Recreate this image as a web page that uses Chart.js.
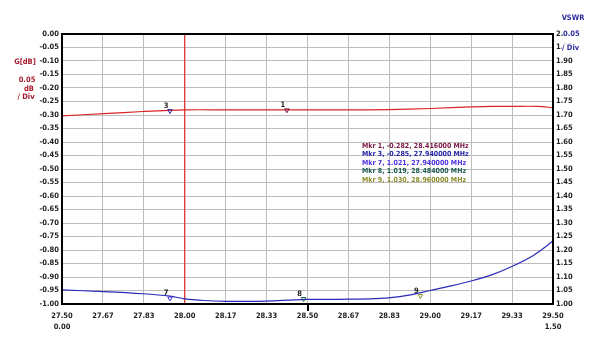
<!DOCTYPE html>
<html>
<head>
<meta charset="utf-8">
<script src="https://cdn.jsdelivr.net/npm/chart.js@4/dist/chart.umd.min.js"></script>
<style>
  html, body { margin: 0; padding: 0; background: #fff; }
  #wrap { width: 616px; height: 338px; }
</style>
</head>
<body>
<div id="wrap"><canvas id="plot" width="616" height="338"></canvas></div>
<script>
// frequency axis (MHz)
const xTicks = [27.5, 27.6667, 27.8333, 28.0, 28.1667, 28.3333, 28.5, 28.6667, 28.8333, 29.0, 29.1667, 29.3333, 29.5];
const xLabels = [['27.50', '0.00'], '27.67', '27.83', '28.00', '28.17', '28.33', '28.50', '28.67', '28.83', '29.00', '29.17', '29.33', ['29.50', '1.50']];

// G[dB] trace (left axis)
const gainFreq = [27.50, 27.67, 27.83, 28.00, 28.17, 28.33, 28.50, 28.67, 28.83, 29.00, 29.17, 29.25, 29.33, 29.44, 29.50];
const gainDb   = [-0.303, -0.295, -0.287, -0.281, -0.281, -0.281, -0.281, -0.281, -0.280, -0.276, -0.270, -0.268, -0.268, -0.268, -0.273];

// VSWR trace (right axis)
const vswrFreq = [27.50, 27.67, 27.83, 27.94, 28.00, 28.08, 28.17, 28.25, 28.33, 28.42, 28.50, 28.58, 28.67, 28.75, 28.83, 28.92, 29.00, 29.08, 29.17, 29.25, 29.33, 29.42, 29.50];
const vswr     = [1.052, 1.046, 1.038, 1.029, 1.019, 1.013, 1.010, 1.010, 1.011, 1.014, 1.017, 1.017, 1.018, 1.019, 1.023, 1.034, 1.050, 1.066, 1.086, 1.108, 1.138, 1.180, 1.233];

// markers
const markerIds   = ['1', '3', '7', '8', '9'];
const markerFreq  = [28.416, 27.940, 27.940, 28.484, 28.960];
const markerValue = [-0.282, -0.285, 1.021, 1.019, 1.030];
const markerAxis  = ['y', 'y', 'y2', 'y2', 'y2'];
const markerColor = ['#7a1444', '#2424a8', '#4a30e0', '#1e5a50', '#8c8c2c'];
const markerText  = [
  'Mkr 1, -0.282, 28.416000 MHz',
  'Mkr 3, -0.285, 27.940000 MHz',
  'Mkr 7, 1.021, 27.940000 MHz',
  'Mkr 8, 1.019, 28.484000 MHz',
  'Mkr 9, 1.030, 28.960000 MHz'
];

const cursorFreq = 28.00;
const centerFreq = 28.50;

const FONT = "'Liberation Sans Narrow', 'DejaVu Sans Condensed', 'Liberation Sans', sans-serif";

const xy = (xs, ys) => xs.map((x, i) => ({ x: x, y: ys[i] }));

const markerSets = markerIds.map((id, i) => ({
  label: 'Mkr ' + id,
  data: [{ x: markerFreq[i], y: markerValue[i] }],
  yAxisID: markerAxis[i],
  showLine: false,
  pointStyle: 'triangle',
  rotation: 180,
  pointRadius: 2.6,
  pointBorderWidth: 1,
  pointBorderColor: markerColor[i],
  pointBackgroundColor: 'rgba(255,255,255,0)',
  order: 0
}));

// texts, border, cursor tick and marker numbers
const overlay = {
  id: 'overlay',
  afterDatasetsDraw(chart) {
    const ctx = chart.ctx;
    const a = chart.chartArea;
    const sx = chart.scales.x, sy = chart.scales.y, sy2 = chart.scales.y2;
    ctx.save();

    // plot frame
    ctx.strokeStyle = '#000';
    ctx.lineWidth = 2;
    ctx.strokeRect(a.left, a.top, a.right - a.left, a.bottom - a.top);

    // centre frequency tick under the axis
    const cx = Math.round(sx.getPixelForValue(centerFreq));
    ctx.beginPath();
    ctx.moveTo(cx, a.bottom);
    ctx.lineTo(cx, a.bottom + 7);
    ctx.stroke();

    // marker numbers
    ctx.font = 'bold 7.5px ' + FONT;
    ctx.textAlign = 'center';
    ctx.textBaseline = 'alphabetic';
    markerIds.forEach((id, i) => {
      const scale = markerAxis[i] === 'y' ? sy : sy2;
      const px = sx.getPixelForValue(markerFreq[i]);
      const py = scale.getPixelForValue(markerValue[i]);
      ctx.fillStyle = '#222';
      ctx.fillText(id, px - 4, py - 3);
    });

    // marker readout
    ctx.font = 'bold 7px ' + FONT;
    ctx.textAlign = 'left';
    ctx.textBaseline = 'middle';
    markerText.forEach((t, i) => {
      ctx.fillStyle = markerColor[i];
      ctx.fillText(t, a.left + 300, a.top + 112 + i * 8.5);
    });

    // left axis title
    ctx.fillStyle = '#a8182c';
    ctx.textAlign = 'center';
    ctx.font = 'bold 7.5px ' + FONT;
    ctx.fillText('G[dB]', 25, 62);
    ctx.fillText('0.05', 27, 80);
    ctx.fillText('dB', 29, 89);
    ctx.fillText('/ Div', 26, 97);

    // right axis title
    ctx.fillStyle = '#2c2c9c';
    ctx.fillText('VSWR', 573, 18);
    ctx.textAlign = 'left';
    const yTop = sy2.getPixelForValue(2.0);
    ctx.fillStyle = '#fff';
    ctx.fillRect(563, yTop - 4, 16, 8);
    ctx.fillStyle = '#2c2c9c';
    ctx.fillText('0.05', 563, yTop);
    const y195 = sy2.getPixelForValue(1.95);
    ctx.fillStyle = '#fff';
    ctx.fillRect(562, y195 - 4, 18, 8);
    ctx.fillStyle = '#2c2c9c';
    ctx.fillText('/ Div', 562, y195 + 1);
    ctx.restore();
  }
};

const tickFont = { family: FONT, size: 7.5, weight: 'bold' };

new Chart(document.getElementById('plot'), {
  type: 'line',
  data: {
    datasets: [
      ...markerSets,
      {
        label: 'cursor',
        data: [{ x: cursorFreq, y: 0 }, { x: cursorFreq, y: -1 }],
        yAxisID: 'y',
        borderColor: '#e02828',
        borderWidth: 1.2,
        pointRadius: 0,
        order: 3
      },
      {
        label: 'G[dB]',
        data: xy(gainFreq, gainDb),
        yAxisID: 'y',
        borderColor: '#dc2424',
        borderWidth: 1.2,
        pointRadius: 0,
        tension: 0.3,
        order: 2
      },
      {
        label: 'VSWR',
        data: xy(vswrFreq, vswr),
        yAxisID: 'y2',
        borderColor: '#2a2ab8',
        borderWidth: 1.2,
        pointRadius: 0,
        tension: 0.3,
        order: 1
      }
    ]
  },
  options: {
    responsive: false,
    animation: false,
    layout: { padding: { top: 34, left: 0, right: 0, bottom: 0 } },
    plugins: { legend: { display: false }, tooltip: { enabled: false } },
    scales: {
      x: {
        type: 'linear',
        min: 27.5,
        max: 29.5,
        afterBuildTicks: s => { s.ticks = xTicks.map(v => ({ value: v })); },
        afterFit: s => { s.height = 34; },
        grid: { color: '#bdbdbd', lineWidth: 1, drawTicks: false },
        border: { display: false },
        ticks: {
          autoSkip: false,
          maxRotation: 0,
          padding: 6,
          color: '#222',
          font: Object.assign({ lineHeight: 1.5 }, tickFont),
          callback: (v, i) => xLabels[i]
        }
      },
      y: {
        position: 'left',
        min: -1,
        max: 0,
        afterFit: s => { s.width = 62; },
        grid: { color: '#bdbdbd', lineWidth: 1, drawTicks: false },
        border: { display: false },
        ticks: {
          stepSize: 0.05,
          autoSkip: false,
          padding: 3,
          color: '#222',
          font: tickFont,
          callback: v => (Math.abs(v) < 1e-9 ? 0 : v).toFixed(2)
        }
      },
      y2: {
        position: 'right',
        min: 1,
        max: 2,
        afterFit: s => { s.width = 63; },
        grid: { display: false, drawTicks: false },
        border: { display: false },
        ticks: {
          stepSize: 0.05,
          autoSkip: false,
          padding: 3,
          color: '#222',
          font: tickFont,
          callback: v => v.toFixed(2)
        }
      }
    }
  },
  plugins: [overlay]
});
</script>
</body>
</html>
